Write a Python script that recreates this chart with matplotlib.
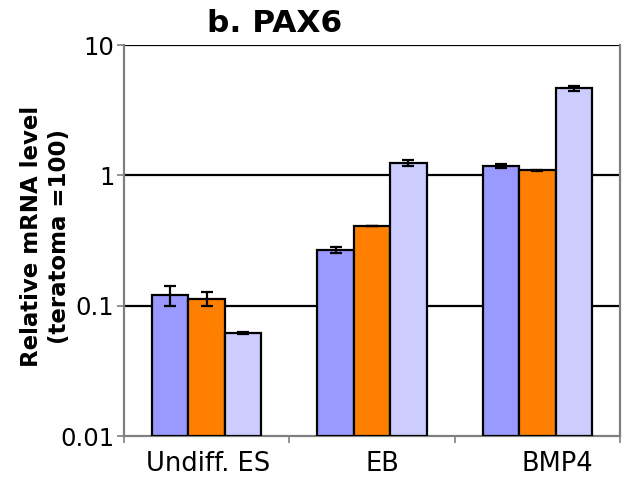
import matplotlib
matplotlib.use("Agg")
import matplotlib.pyplot as plt
import matplotlib.transforms as mtransforms
import numpy as np
from matplotlib.ticker import FixedLocator, FixedFormatter, NullLocator

categories = ["Undiff. ES", "EB", "BMP4"]
series1 = [0.121, 0.267, 1.18]
series2 = [0.113, 0.408, 1.09]
series3 = [0.062, 1.24, 4.65]
err1 = [0.021, 0.015, 0.04]
err2 = [0.014, 0.003, 0.012]
err3 = [0.001, 0.06, 0.2]
ytick_vals = [0.01, 0.1, 1, 10]
ytick_labels = ["0.01", "0.1", "1", "10"]

colors = ["#9999FF", "#FF8000", "#CCCCFF"]
base = 0.01

plt.rcParams['font.family'] = ['DejaVu Sans']
fig = plt.figure(figsize=(6.24, 4.83), dpi=100)
ax = fig.add_axes([124/624, 47/483, 496/624, 391/483])

x = np.arange(len(categories))
w = 0.22
allser = [series1, series2, series3]
allerr = [err1, err2, err3]
for i, vals in enumerate(allser):
    ax.bar(x + (i - 1) * w, np.array(vals) - base, width=w, color=colors[i],
           edgecolor="black", linewidth=1.6, zorder=3, bottom=base)
for i, (vals, errs) in enumerate(zip(allser, allerr)):
    ax.errorbar(x + (i - 1) * w, vals, yerr=errs, fmt="none", ecolor="black",
                elinewidth=1.6, capsize=4, capthick=1.6, zorder=4)

ax.set_yscale("log")
ax.set_ylim(0.01, 10)
ax.set_xlim(-0.5, 2.5)
ax.yaxis.set_major_locator(FixedLocator(ytick_vals))
ax.yaxis.set_major_formatter(FixedFormatter(ytick_labels))
ax.yaxis.set_minor_locator(NullLocator())
for v in ytick_vals[1:]:
    ax.axhline(v, color="black", linewidth=1.6, zorder=1)

ax.set_xticks([-0.5, 0.5, 1.5, 2.5])
ax.set_xticklabels([])
ax.xaxis.set_minor_locator(FixedLocator(x))
ax.xaxis.set_minor_formatter(FixedFormatter(categories))
ax.tick_params(axis="x", which="minor", length=0, labelsize=18.5, pad=11)
ax.tick_params(axis="x", which="major", length=5, width=1.2, color="#808080", direction="out")
ax.tick_params(axis="y", which="major", length=5, width=1.2, color="#808080", labelsize=17.5, pad=2)

# slight rightward shift of the category labels as in the reference
shifts_px = [1, 10, 20]
fig.canvas.draw()
for lab, dx in zip(ax.xaxis.get_minorticklabels(), shifts_px):
    lab.set_transform(lab.get_transform() +
                      mtransforms.ScaledTranslation(dx / 100, 0, fig.dpi_scale_trans))

for s in ["left", "bottom", "right", "top"]:
    ax.spines[s].set_color("#808080")
    ax.spines[s].set_linewidth(1.6)
ax.spines["top"].set_visible(False)

ax.set_ylabel("Relative mRNA level\n(teratoma =100)", fontsize=16.5, fontweight="bold",
              linespacing=1.3)
ax.yaxis.set_label_coords(-0.107, 0.51)
fig.text(275/624, 1 - 23/483, "b. PAX6", fontsize=22.5, fontweight="bold",
         ha="center", va="center")

fig.savefig("out.png", dpi=100)
